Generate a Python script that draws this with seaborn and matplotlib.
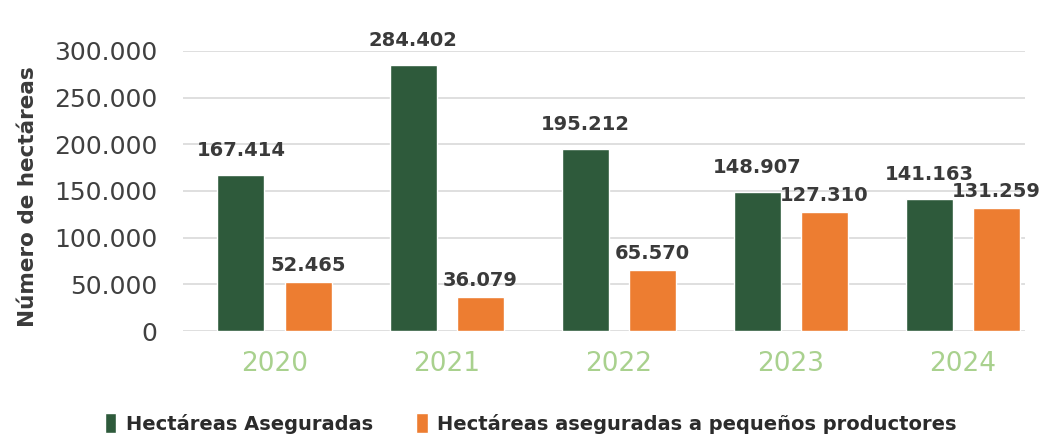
import pandas as pd
import matplotlib.pyplot as plt
import seaborn as sns
from matplotlib.ticker import FuncFormatter

# Datos
years = ['2020', '2021', '2022', '2023', '2024']
aseguradas = [167414, 284402, 195212, 148907, 141163]
pequenos = [52465, 36079, 65570, 127310, 131259]
series = ['Hectáreas Aseguradas', 'Hectáreas aseguradas a pequeños productores']
colors = ['#2E5A3B', '#ED7D31']

df = pd.DataFrame({
    'Año': years * 2,
    'Serie': [series[0]] * 5 + [series[1]] * 5,
    'Hectáreas': aseguradas + pequenos,
})

sns.set_style('white')
plt.rcParams['font.family'] = ['DejaVu Sans']

fig = plt.figure(figsize=(10.47, 4.34), dpi=100)
ax = fig.add_axes([0.175, 0.237, 0.804, 0.646])

sns.barplot(data=df, x='Año', y='Hectáreas', hue='Serie', palette=colors,
            saturation=1, width=0.78, gap=0.30, ax=ax, legend=True)

# Etiquetas de valores (separación distinta por serie para que no se pisen)
fmt = lambda v: f'{v:,.0f}'.replace(',', '.')
offsets = [16000, 7500]
for cont, off in zip(ax.containers, offsets):
    for bar in cont:
        h = bar.get_height()
        ax.text(bar.get_x() + bar.get_width() / 2, h + off, fmt(h),
                ha='center', va='bottom', fontsize=14, fontweight='bold',
                color='#3A3A3A', clip_on=False)

ax.set_ylim(0, 300000)
ax.set_xlim(-0.53, 4.36)
ax.set_yticks(range(0, 300001, 50000))
ax.yaxis.set_major_formatter(FuncFormatter(lambda v, p: fmt(v)))
ax.grid(axis='y', color='#D9D9D9', linewidth=1.2)
ax.set_axisbelow(True)
for s in ax.spines.values():
    s.set_visible(False)
ax.tick_params(axis='y', labelsize=18, labelcolor='#404040', length=0, pad=18.5)
ax.tick_params(axis='x', labelsize=19, labelcolor='#A9D18E', length=0, pad=14)
ax.set_xlabel('')
ax.set_ylabel('Número de hectáreas', fontsize=15.5, fontweight='bold',
              color='#3A3A3A')
ax.yaxis.set_label_coords(-0.172, 0.48)

handles, labels = ax.get_legend_handles_labels()
ax.get_legend().remove()
fig.legend(handles, labels, loc='lower center', bbox_to_anchor=(0.507, -0.04),
           ncol=2, frameon=False, handlelength=0.6,
           handleheight=1.2, columnspacing=2.2, handletextpad=0.5,
           prop={'weight': 'bold', 'size': 14})
for t in fig.legends[0].get_texts():
    t.set_color('#2B2B2B')

fig.savefig('out.png', dpi=100)
